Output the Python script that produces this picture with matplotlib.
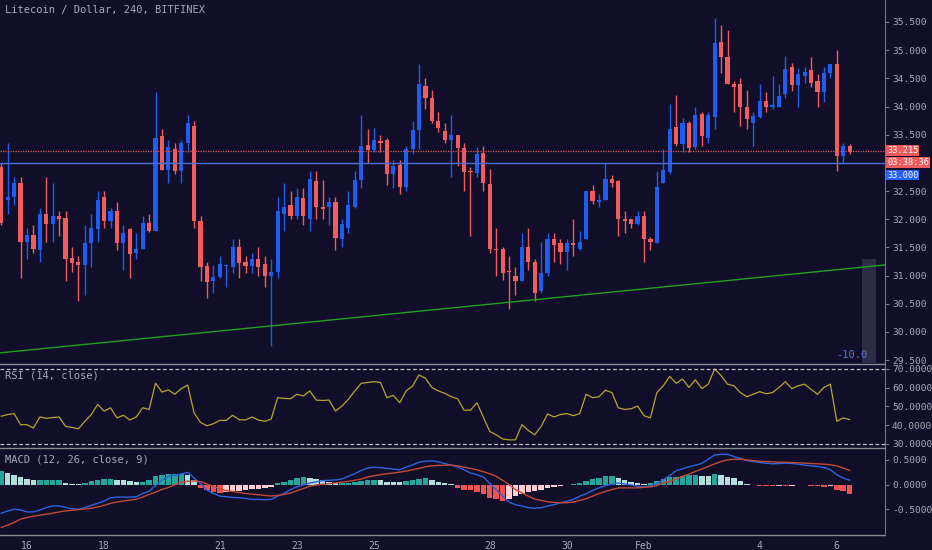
import matplotlib
matplotlib.use("Agg")
import matplotlib.pyplot as plt
import numpy as np

# ---------------- data ----------------
opens = [32.93,32.35,32.40,32.65,31.60,31.72,31.45,32.10,31.92,32.05,32.02,31.32,31.25,31.18,31.58,31.83,32.40,31.97,32.15,31.58,
         31.82,31.40,31.48,31.93,31.80,33.47,32.88,33.25,32.85,33.35,33.65,31.97,31.17,30.90,30.98,31.17,31.15,31.50,31.25,31.17,
         31.30,31.20,31.00,31.07,32.10,32.25,32.05,32.38,32.00,32.67,32.20,32.22,32.30,31.65,31.85,32.22,32.70,33.32,33.22,33.38,
         33.40,32.80,32.97,32.58,33.25,33.58,34.37,34.15,33.75,33.57,33.40,33.50,33.26,32.85,32.82,33.17,32.62,31.47,31.47,31.07,
         31.00,30.90,31.50,31.25,30.72,31.05,31.65,31.58,31.42,31.58,31.48,31.65,32.50,32.30,32.35,32.72,32.67,32.00,32.00,31.92,
         32.05,31.65,31.58,32.65,32.83,33.63,33.33,33.70,33.28,33.87,33.45,33.82,35.15,34.88,34.40,34.40,34.00,33.70,33.82,34.10,
         34.00,34.00,34.22,34.70,34.38,34.55,34.65,34.45,34.25,34.60,34.75,33.12,33.30]
closes = [31.93,32.40,32.65,31.60,31.72,31.47,32.10,31.92,32.05,32.00,31.30,31.22,31.18,31.58,31.85,32.35,31.97,32.15,31.58,31.75,
          31.38,31.47,31.93,31.80,33.45,32.88,33.28,32.85,33.35,33.70,31.97,31.15,30.88,30.98,31.20,31.18,31.50,31.23,31.17,31.30,
          31.15,31.00,31.07,32.15,32.22,32.05,32.40,32.05,32.72,32.22,32.19,32.30,31.67,31.92,32.25,32.70,33.30,33.22,33.40,33.35,
          32.80,32.95,32.57,33.25,33.58,34.40,34.15,33.75,33.62,33.40,33.50,33.26,32.83,32.83,33.15,32.65,31.47,31.46,31.05,31.06,
          30.90,31.50,31.25,30.70,31.05,31.65,31.55,31.42,31.58,31.55,31.60,32.50,32.33,32.35,32.72,32.65,32.00,31.97,31.92,32.05,
          31.65,31.60,32.57,32.88,33.60,33.33,33.70,33.27,33.85,33.48,33.85,35.13,34.88,34.40,34.35,34.00,33.77,33.83,34.10,34.00,
          34.01,34.18,34.67,34.38,34.58,34.62,34.42,34.25,34.60,34.75,33.12,33.30,33.20]
highs = [33.00,33.35,32.75,32.75,31.85,31.90,32.20,32.75,32.65,32.15,32.15,31.50,31.35,31.90,32.10,32.50,32.50,32.20,32.30,31.90,
         31.85,31.75,32.05,32.10,34.25,33.60,33.40,33.35,33.40,33.85,33.75,32.05,31.25,31.18,31.35,31.20,31.65,31.65,31.35,31.40,
         31.50,31.35,31.30,32.40,32.65,32.50,32.55,32.55,32.85,32.85,32.70,32.40,32.40,32.00,32.50,32.85,33.85,33.60,33.62,33.50,
         33.45,33.05,33.05,33.30,33.75,34.75,34.50,34.30,33.90,33.70,33.85,33.50,33.35,32.93,33.28,33.30,32.90,31.85,31.50,31.35,
         31.15,31.75,31.85,31.30,31.60,31.75,31.75,31.65,31.65,32.00,31.80,32.50,32.60,32.45,33.00,32.78,32.70,32.15,32.00,32.15,
         32.15,31.68,32.85,33.25,34.05,34.20,33.80,33.75,34.00,33.90,33.90,35.57,35.45,35.35,34.45,34.50,34.30,33.90,34.40,34.25,
         34.55,34.40,34.90,34.78,34.68,34.70,34.88,34.58,34.70,34.75,35.00,33.35,33.33]
lows = [31.90,32.10,32.25,30.95,31.30,31.40,31.25,31.60,31.60,31.70,30.90,31.07,30.55,30.65,31.15,31.60,31.85,31.85,31.45,31.10,
        30.95,31.30,31.48,31.78,31.80,32.88,32.65,32.80,32.65,33.20,31.85,30.90,30.60,30.70,30.95,30.80,31.05,30.95,31.05,31.05,
        31.00,30.80,29.75,30.95,31.80,32.00,32.00,31.90,31.80,32.00,32.00,31.90,31.45,31.50,31.75,32.20,32.55,33.00,33.20,33.20,
        32.60,32.55,32.45,32.50,33.15,33.25,33.95,33.70,33.55,33.35,32.75,32.95,32.50,31.70,32.75,32.50,31.40,31.00,30.92,30.40,
        30.65,30.90,31.10,30.55,30.70,31.00,31.25,31.20,31.10,31.35,31.45,31.65,32.27,32.22,32.35,32.58,31.70,31.75,31.85,31.90,
        31.25,31.45,31.58,32.65,32.80,33.30,33.20,33.20,33.25,33.30,33.35,33.60,34.60,34.40,33.90,33.65,33.60,33.30,33.80,33.90,
        33.95,34.00,34.15,34.28,34.00,34.42,34.35,34.00,34.08,34.50,32.85,33.00,33.15]

rsi = [44.8,45.7,46.2,40.3,40.3,38.5,44.4,43.7,44.1,44.4,39.4,38.8,38.1,42.1,45.7,51.1,47.5,49.3,43.9,45.3,
       42.8,44.4,49.3,48.4,62.4,57.7,58.8,56.5,59.5,61.4,46.6,41.5,39.7,40.8,42.6,42.6,45.3,43.0,42.8,44.4,
       42.8,42.1,43.3,54.7,54.3,54.1,56.5,55.6,58.3,53.4,53.2,53.4,47.5,50.2,53.8,58.3,62.3,62.8,63.2,62.8,
       54.7,55.9,52.0,58.3,61.0,66.8,65.0,60.1,58.3,57.0,55.2,54.1,48.0,48.0,52.0,44.4,36.7,34.9,32.7,32.2,
       32.2,40.3,37.2,34.9,39.4,46.0,44.4,45.7,46.2,45.1,46.2,56.5,54.7,55.2,58.6,57.4,49.3,48.4,48.8,50.2,
       45.1,43.9,57.4,61.0,66.0,62.4,64.6,60.1,64.2,59.5,61.9,70.0,66.4,61.9,61.0,57.4,55.2,56.5,57.9,56.8,
       57.4,60.1,63.2,59.5,61.0,61.9,59.1,56.5,60.1,61.9,42.1,43.9,43.0]

macd = [-0.58,-0.533,-0.50,-0.513,-0.553,-0.553,-0.513,-0.467,-0.433,-0.433,-0.46,-0.487,-0.50,-0.467,-0.42,-0.38,-0.333,-0.267,-0.253,-0.253,
        -0.253,-0.247,-0.18,-0.133,-0.02,0.087,0.167,0.187,0.213,0.247,0.133,0.02,-0.113,-0.18,-0.233,-0.247,-0.26,-0.267,-0.28,-0.30,
        -0.30,-0.307,-0.30,-0.233,-0.18,-0.10,-0.047,-0.007,0.033,0.053,0.08,0.087,0.093,0.113,0.167,0.22,0.287,0.333,0.353,0.34,
        0.327,0.313,0.30,0.353,0.40,0.453,0.473,0.48,0.46,0.427,0.393,0.353,0.30,0.233,0.20,0.153,0.02,-0.10,-0.233,-0.353,
        -0.407,-0.433,-0.467,-0.48,-0.467,-0.433,-0.407,-0.367,-0.34,-0.30,-0.233,-0.187,-0.12,-0.067,-0.02,0.007,0.033,0.013,-0.007,-0.033,
        -0.053,-0.02,0.02,0.10,0.18,0.28,0.32,0.36,0.393,0.427,0.513,0.60,0.613,0.613,0.567,0.527,0.487,0.467,0.447,0.433,
        0.42,0.427,0.433,0.427,0.413,0.393,0.38,0.367,0.347,0.30,0.20,0.133,0.087]
signal = [-0.867,-0.82,-0.767,-0.70,-0.667,-0.64,-0.62,-0.60,-0.58,-0.553,-0.533,-0.52,-0.507,-0.493,-0.48,-0.453,-0.42,-0.38,-0.353,-0.333,
          -0.313,-0.30,-0.253,-0.20,-0.153,-0.10,-0.06,0.0,0.047,0.067,0.073,0.06,0.013,-0.04,-0.087,-0.12,-0.14,-0.16,-0.18,-0.193,
          -0.207,-0.22,-0.233,-0.22,-0.20,-0.173,-0.127,-0.08,-0.033,-0.007,0.007,0.02,0.033,0.047,0.067,0.087,0.113,0.153,0.18,0.20,
          0.22,0.233,0.253,0.273,0.30,0.327,0.36,0.38,0.387,0.393,0.393,0.38,0.353,0.327,0.30,0.26,0.22,0.167,0.087,0.0,
          -0.10,-0.167,-0.233,-0.293,-0.32,-0.347,-0.36,-0.367,-0.367,-0.353,-0.32,-0.287,-0.233,-0.18,-0.14,-0.10,-0.067,-0.067,-0.067,-0.067,
          -0.053,-0.047,-0.02,0.033,0.067,0.113,0.167,0.213,0.267,0.313,0.367,0.42,0.467,0.50,0.513,0.513,0.50,0.487,0.473,0.467,
          0.46,0.453,0.453,0.447,0.44,0.433,0.427,0.42,0.413,0.40,0.38,0.333,0.287]
hist = [0.267,0.233,0.20,0.153,0.113,0.087,0.087,0.10,0.10,0.10,0.033,0.02,0.013,0.033,0.067,0.087,0.113,0.113,0.10,0.087,
        0.067,0.047,0.047,0.10,0.167,0.187,0.207,0.22,0.22,0.20,0.10,-0.067,-0.113,-0.153,-0.167,-0.16,-0.14,-0.12,-0.107,-0.093,
        -0.087,-0.073,-0.053,0.033,0.06,0.10,0.133,0.153,0.133,0.113,0.087,0.06,0.027,0.027,0.04,0.06,0.08,0.087,0.10,0.093,
        0.06,0.053,0.047,0.073,0.093,0.12,0.127,0.10,0.06,0.027,0.007,-0.067,-0.10,-0.113,-0.153,-0.20,-0.267,-0.30,-0.333,-0.287,
        -0.233,-0.20,-0.153,-0.12,-0.10,-0.067,-0.047,-0.033,-0.013,0.02,0.033,0.073,0.113,0.14,0.167,0.173,0.133,0.10,0.06,0.04,
        0.02,0.033,0.073,0.12,0.16,0.16,0.167,0.187,0.20,0.18,0.167,0.213,0.193,0.16,0.127,0.067,0.02,-0.013,-0.02,-0.033,
        -0.033,-0.02,-0.027,-0.02,-0.013,-0.013,-0.02,-0.033,-0.047,-0.02,-0.113,-0.14,-0.20]

date_labels = ["16", "18", "21", "23", "25", "28", "30", "Feb", "4", "6"]
date_days = [0, 2, 5, 7, 9, 12, 14, 16, 19, 21]
bars_per_day = 6
first_day_bar = 4

price_ticks = [29.5, 30.0, 30.5, 31.0, 31.5, 32.0, 32.5, 33.0, 33.5, 34.0, 34.5, 35.0, 35.5]
rsi_ticks = [30, 40, 50, 60, 70]
macd_ticks = [-0.5, 0.0, 0.5]
last_price = 33.215
line_price = 33.0
trend_start, trend_end = 29.63, 31.19

# ---------------- style ----------------
BG = "#110e29"
TXT = "#a9a9b8"
UP = "#1f5cf0"
DN = "#f25c5c"
FONT = "DejaVu Sans Mono"
plt.rcParams["font.family"] = FONT
plt.rcParams["font.size"] = 7

fig = plt.figure(figsize=(9.32, 5.5), dpi=100, facecolor=BG)
W = 885 / 932
ax = fig.add_axes([0, 1 - 363 / 550, W, 363 / 550])
axr = fig.add_axes([0, 1 - 447 / 550, W, 82 / 550])
axm = fig.add_axes([0, 1 - 533 / 550, W, 84 / 550])

n = len(closes)
x = np.arange(n)
xlim = (-0.2, 137.5)

for a in (ax, axr, axm):
    a.set_facecolor(BG)
    a.set_xlim(*xlim)
    for s in ("top", "left", "bottom"):
        a.spines[s].set_visible(False)
    a.spines["right"].set_color("#777780")
    a.yaxis.tick_right()
    a.tick_params(axis="y", colors=TXT, labelsize=6.8, length=3, pad=2, color="#777780")
    a.tick_params(axis="x", bottom=False, labelbottom=False)

# candles
o = np.array(opens); c = np.array(closes); h = np.array(highs); l = np.array(lows)
cols = [UP if cc >= oo else DN for oo, cc in zip(o, c)]
ax.vlines(x, l, h, colors=cols, linewidth=1)
body_lo = np.minimum(o, c)
body_h = np.maximum(np.abs(c - o), 0.02)
ax.bar(x, body_h, bottom=body_lo, width=0.65, color=cols, linewidth=0)

ax.set_ylim(29.45, 35.89)
ax.set_yticks(price_ticks)
ax.set_yticklabels([f"{t:.3f}" for t in price_ticks])

ax.axhline(last_price, color="#e05555", linestyle=(0, (1, 1)), linewidth=0.9)
ax.axhline(line_price, color="#4a6fd8", linewidth=1)
ax.plot([xlim[0], xlim[1]], [trend_start, trend_end], color="#1fa01f", linewidth=1)
ax.bar(135.0, 31.3 - 29.45, bottom=29.45, width=2.3, color="#2e2c45", linewidth=0)
ax.text(134.8, 29.6, "-10.0", color="#5a78d0", fontsize=7.5, ha="right", va="center")

ax.text(0.006, 0.972, "Litecoin / Dollar, 240, BITFINEX", transform=ax.transAxes,
        color=TXT, fontsize=7.5, va="center", ha="left")

def tag(axis, y, txt, fc, tc="white", dy=0):
    axis.annotate(txt, xy=(1.0, y), xycoords=("axes fraction", "data"),
                  xytext=(1.5, dy), textcoords="offset points", color=tc, fontsize=6.2,
                  va="center", ha="left",
                  bbox=dict(boxstyle="square,pad=0.1", fc=fc, ec="none"))

tag(ax, last_price, "33.215", "#f05a5a")
tag(ax, last_price, "03:38:36", "#f05a5a", dy=-8.5)
tag(ax, line_price, "33.000", "#2962ff", dy=-8.8)

# RSI
axr.plot(x, rsi, color="#b4a52c", linewidth=0.9)
axr.set_ylim(28.4, 72.1)
axr.set_yticks(rsi_ticks)
axr.set_yticklabels([f"{t:.4f}" for t in rsi_ticks])
for lv in (70, 30):
    axr.axhline(lv, color="#c0c0c8", linestyle=(0, (3, 2)), linewidth=0.9)
axr.text(0.006, 0.87, "RSI (14, close)", transform=axr.transAxes, color=TXT, fontsize=7.5, va="center")

# MACD
hv = np.array(hist)
hcols = []
for i, v in enumerate(hv):
    prev = hv[i - 1] if i > 0 else v
    if v >= 0:
        hcols.append("#26a69a" if v >= prev else "#b2dfdb")
    else:
        hcols.append("#ef5350" if v <= prev else "#ffcdd2")
axm.bar(x, hv, width=0.85, color=hcols, linewidth=0)
axm.plot(x, macd, color="#2a64e0", linewidth=1)
axm.plot(x, signal, color="#c04a35", linewidth=1)
axm.set_ylim(-0.98, 0.72)
axm.set_yticks(macd_ticks)
axm.set_yticklabels([f"{t:.4f}" for t in macd_ticks])
axm.text(0.006, 0.87, "MACD (12, 26, close, 9)", transform=axm.transAxes, color=TXT, fontsize=7.5, va="center")

# dates
tick_pos = [first_day_bar + bars_per_day * d for d in date_days]
axm.set_xticks(tick_pos)
axm.set_xticklabels(date_labels)
axm.tick_params(axis="x", labelbottom=True, bottom=False, colors=TXT, labelsize=7, pad=2)

# pane separators
for yy in (1 - 364 / 550, 1 - 448 / 550, 1 - 535 / 550):
    fig.add_artist(plt.Line2D([0, W], [yy, yy], color="#8a8a95", linewidth=1))

fig.savefig("out.png", dpi=100, facecolor=BG)
